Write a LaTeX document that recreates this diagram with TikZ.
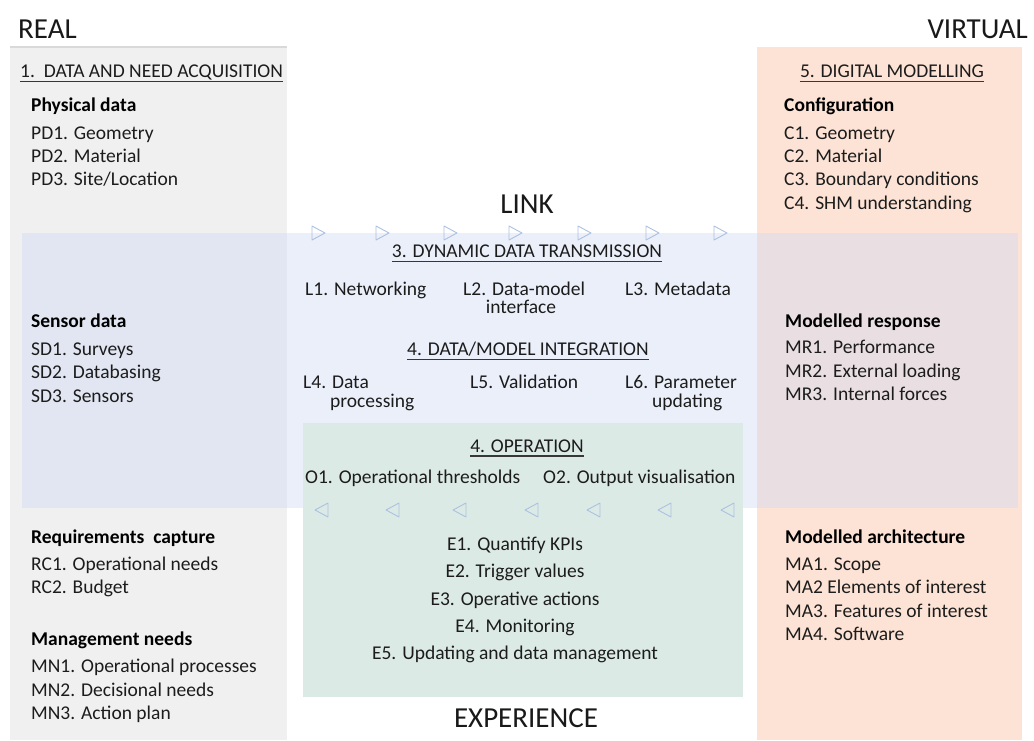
\documentclass[tikz,border=0pt]{standalone}
\usepackage{fontspec}
\setmainfont{Carlito}
\definecolor{grayp}{RGB}{240,240,240}
\definecolor{orangep}{RGB}{252,227,213}
\definecolor{bandc}{RGB}{210,220,245}
\definecolor{greenp}{RGB}{220,234,230}
\definecolor{tric}{RGB}{172,192,224}
\definecolor{txtc}{RGB}{28,28,28}
\definecolor{ulc}{RGB}{55,55,55}
\tikzset{
  body/.style={inner sep=0pt, anchor=base west, font=\fontsize{19.5}{23}\selectfont, text=txtc},
  bhead/.style={body, font=\fontsize{19.5}{23}\selectfont\bfseries, text=black},
  ctr/.style={body, anchor=base},
  big/.style={inner sep=0pt, anchor=base, font=\fontsize{29}{34}\selectfont, text=black!90},
  ulline/.style={draw=ulc, line width=1.2pt},
  tri/.style={draw=tric, line width=0.9pt, line join=round}
}
\begin{document}
\begin{tikzpicture}[x=1pt,y=-1pt]
\useasboundingbox (0,0) rectangle (1034,740);
% panels
\fill[grayp] (10,47) rectangle (287,740);
\draw[black!15, line width=1.2pt] (10,47) -- (287,47);
\fill[orangep] (757,47) rectangle (1022,740);
\fill[bandc, fill opacity=0.45] (22,233) rectangle (1018,508);
\fill[greenp] (303,423) rectangle (743,697);
% titles
\node[big, anchor=base west] (real) at (18,38) {REAL};
\node[big, anchor=base east] (virtual) at (1028,38) {VIRTUAL};
\node[big] (link) at (527,213) {LINK};
\node[big] (experience) at (526,727) {EXPERIENCE};
% left panel
\node[body] (h1) at (20,77) {1.\ \ DATA AND NEED ACQUISITION};
\draw[ulline] ([yshift=-4.5pt]h1.base west) -- ([yshift=-4.5pt]h1.base east);
\node[bhead] (pd) at (31,111) {Physical data};
\node[body] (pd1) at (31,139) {PD1. Geometry};
\node[body] (pd2) at (31,162) {PD2. Material};
\node[body] (pd3) at (31,185) {PD3. Site/Location};
\node[bhead] (sd) at (31,327) {Sensor data};
\node[body] (sd1) at (31,355) {SD1. Surveys};
\node[body] (sd2) at (31,378) {SD2. Databasing};
\node[body] (sd3) at (31,402) {SD3. Sensors};
\node[bhead] (rc) at (31,543) {Requirements\ \ capture};
\node[body] (rc1) at (31,570) {RC1. Operational needs};
\node[body] (rc2) at (31,593) {RC2. Budget};
\node[bhead] (mn) at (31,645) {Management needs};
\node[body] (mn1) at (31,672) {MN1. Operational processes};
\node[body] (mn2) at (31,696) {MN2. Decisional needs};
\node[body] (mn3) at (31,719) {MN3. Action plan};
% right panel
\node[ctr] (h5) at (892,77) {5. DIGITAL MODELLING};
\draw[ulline] ([yshift=-4.5pt]h5.base west) -- ([yshift=-4.5pt]h5.base east);
\node[bhead] (cf) at (784,111) {Configuration};
\node[body] (c1) at (784,139) {C1. Geometry};
\node[body] (c2) at (784,162) {C2. Material};
\node[body] (c3) at (784,185) {C3. Boundary conditions};
\node[body] (c4) at (784,209) {C4. SHM understanding};
\node[bhead] (mr) at (785,327) {Modelled response};
\node[body] (mr1) at (785,353) {MR1. Performance};
\node[body] (mr2) at (785,377) {MR2. External loading};
\node[body] (mr3) at (785,400) {MR3. Internal forces};
\node[bhead] (ma) at (785,543) {Modelled architecture};
\node[body] (ma1) at (785,570) {MA1. Scope};
\node[body] (ma2) at (785,593) {MA2 Elements of interest};
\node[body] (ma3) at (785,617) {MA3. Features of interest};
\node[body] (ma4) at (785,640) {MA4. Software};
% link band
\foreach \x in {318,382,450,515,584,652,720}
  \draw[tri] (\x-6,226) -- (\x+7,233) -- (\x-6,240) -- cycle;
\node[ctr] (h3) at (527,257) {3. DYNAMIC DATA TRANSMISSION};
\draw[ulline] ([yshift=-4.5pt]h3.base west) -- ([yshift=-4.5pt]h3.base east);
\node[body] (l1) at (305,295) {L1. Networking};
\node[body] (l2a) at (463,295) {L2. Data-model};
\node[ctr] (l2b) at (521,313) {interface};
\node[body] (l3) at (625,295) {L3. Metadata};
\node[ctr] (h4) at (528,355) {4. DATA/MODEL INTEGRATION};
\draw[ulline] ([yshift=-4.5pt]h4.base west) -- ([yshift=-4.5pt]h4.base east);
\node[body] (l4a) at (303,388) {L4. Data};
\node[body] (l4b) at (330,407) {processing};
\node[body] (l5) at (470,388) {L5. Validation};
\node[body] (l6a) at (625,388) {L6. Parameter};
\node[body] (l6b) at (652,407) {updating};
% operation box
\node[ctr] (h4o) at (527,452) {4. OPERATION};
\draw[ulline] ([yshift=-4pt]h4o.base west) -- ([yshift=-4pt]h4o.base east);
\node[body] (o1) at (305,483) {O1. Operational thresholds};
\node[body] (o2) at (543,483) {O2. Output visualisation};
\foreach \x in {322,393,460,532,594,665,728}
  \draw[tri] (\x+6,503) -- (\x-7,510) -- (\x+6,517) -- cycle;
\node[ctr] (e1) at (515,550) {E1. Quantify KPIs};
\node[ctr] (e2) at (515,577) {E2. Trigger values};
\node[ctr] (e3) at (515,605) {E3. Operative actions};
\node[ctr] (e4) at (515,632) {E4. Monitoring};
\node[ctr] (e5) at (515,659) {E5. Updating and data management};
\end{tikzpicture}
\end{document}
